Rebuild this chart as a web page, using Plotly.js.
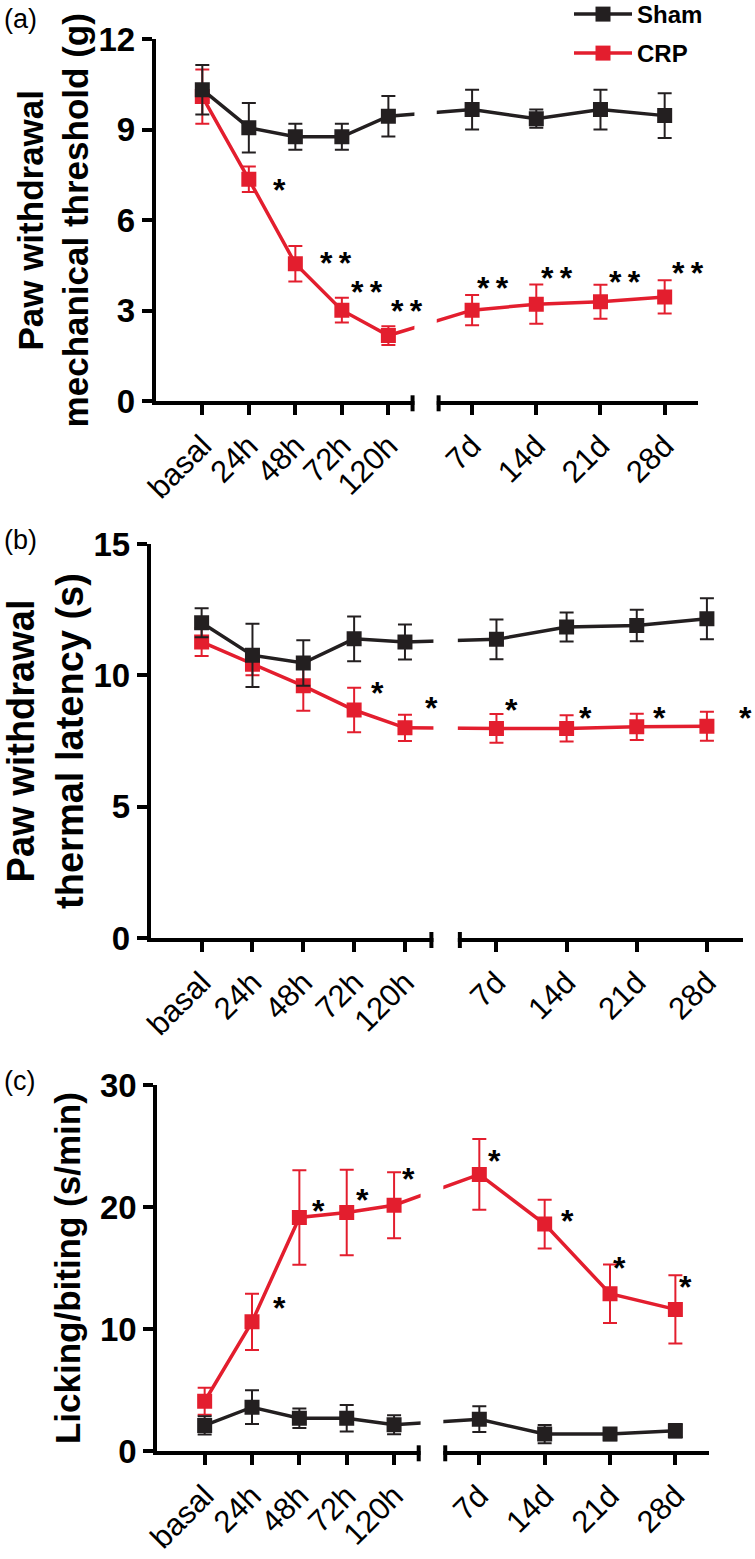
<!DOCTYPE html>
<html>
<head>
<meta charset="utf-8">
<script src="https://cdn.plot.ly/plotly-3.0.1.min.js"></script>
<style>html,body{margin:0;padding:0;background:#fff}#graph{width:755px;height:1559px}</style>
</head>
<body>
<div id="graph"></div>
<script>
var timeLabels = ['basal', '24h', '48h', '72h', '120h', '7d', '14d', '21d', '28d'];

// (a) mechanical threshold (g), mean and error
var mechSham = [10.33, 9.07, 8.77, 8.77, 9.45, 9.67, 9.37, 9.67, 9.47];
var mechShamErr = [0.82, 0.82, 0.43, 0.43, 0.67, 0.66, 0.3, 0.66, 0.74];
var mechCrp = [10.1, 7.36, 4.56, 3.02, 2.18, 3.02, 3.22, 3.3, 3.46];
var mechCrpErr = [0.9, 0.42, 0.59, 0.41, 0.31, 0.5, 0.65, 0.56, 0.55];
var mechStars = ['', '*', '**', '**', '**', '**', '**', '**', '**'];

// (b) thermal latency (s)
var thermSham = [12.0, 10.76, 10.47, 11.39, 11.27, 11.37, 11.84, 11.9, 12.15];
var thermShamErr = [0.55, 1.2, 0.87, 0.85, 0.67, 0.76, 0.55, 0.6, 0.78];
var thermCrp = [11.27, 10.42, 9.6, 8.68, 8.0, 7.98, 7.98, 8.04, 8.06];
var thermCrpErr = [0.53, 0.42, 0.95, 0.85, 0.5, 0.55, 0.5, 0.5, 0.55];
var thermStars = ['', '', '', '*', '*', '*', '*', '*', '*'];

// (c) licking/biting (s/min)
var lickSham = [2.12, 3.61, 2.71, 2.71, 2.17, 2.63, 1.41, 1.41, 1.68];
var lickShamErr = [0.75, 1.38, 0.8, 1.08, 0.78, 1.05, 0.75, 0.5, 0.55];
var lickCrp = [4.1, 10.6, 19.15, 19.56, 20.15, 22.68, 18.61, 12.9, 11.62];
var lickCrpErr = [1.1, 2.3, 3.87, 3.5, 2.7, 2.9, 2.0, 2.4, 2.8];
var lickStars = ['', '*', '*', '*', '*', '*', '*', '*', '*'];

var W = 755, H = 1559;
var red = '#e31e2e', dark = '#231f20';
var fam = '"Liberation Sans", Arial, sans-serif';
function px(x) { return x / W; }
function py(y) { return 1 - y / H; }

// broken time axis: hours spaced by 1, days by 1.38 after the break
var xPos = timeLabels.map(function (t, i) { return i < 5 ? i + 1 : 6.8 + (i - 5) * 1.38; });
var xMax = 11.65, capL = 5.52, capR = 6.08;

var panels = [
  {left: 155.8, right: 697.7, top: 39.3, bottom: 401.3, ymax: 12, dtick: 3, label: '(a)', labelY: 19,
   title: 'Paw withdrawal<br>mechanical threshold (g)', tsize: 35, standoff: 0,
   sham: mechSham, shamErr: mechShamErr, crp: mechCrp, crpErr: mechCrpErr, stars: mechStars,
   starX: [0, 2.65, 3.88, 4.54, 5.41, 7.24, 8.62, 10.09, 11.44],
   starY: [0, 7.3, 4.89, 3.92, 3.3, 4.06, 4.39, 4.26, 4.54]},
  {left: 150.8, right: 743, top: 544, bottom: 938, ymax: 15, dtick: 5, label: '(b)', labelY: 540,
   title: 'Paw withdrawal<br>thermal latency (s)', tsize: 38, standoff: 16,
   sham: thermSham, shamErr: thermShamErr, crp: thermCrp, crpErr: thermCrpErr, stars: thermStars,
   starX: [0, 0, 0, 4.46, 5.52, 7.1, 8.55, 10.0, 11.69],
   starY: [0, 0, 0, 9.66, 9.08, 9.01, 8.73, 8.73, 8.7]},
  {left: 157.3, right: 709, top: 1085, bottom: 1451.3, ymax: 30, dtick: 10, label: '(c)', labelY: 1081,
   title: 'Licking/biting (s/min)', tsize: 35, standoff: 10,
   sham: lickSham, shamErr: lickShamErr, crp: lickCrp, crpErr: lickCrpErr, stars: lickStars,
   starX: [0, 2.58, 3.41, 4.34, 5.3, 7.12, 8.67, 9.76, 11.15],
   starY: [0, 12.49, 20.42, 21.32, 23.03, 24.5, 19.56, 15.75, 14.18]}
];

var data = [], annotations = [], shapes = [];
var legendFont = {family: fam, size: 24, weight: 'bold', color: '#000'};
var layout = {
  width: W, height: H,
  margin: {l: 0, r: 0, t: 0, b: 0, autoexpand: false},
  paper_bgcolor: '#fff', plot_bgcolor: '#fff',
  font: {family: fam, color: '#000'},
  hovermode: false,
  legend: {x: px(569), xanchor: 'left', y: py(-8), yanchor: 'top', itemwidth: 58,
           font: legendFont, bgcolor: 'rgba(0,0,0,0)'},
  legend2: {x: px(569), xanchor: 'left', y: py(31), yanchor: 'top', itemwidth: 58,
            font: legendFont, bgcolor: 'rgba(0,0,0,0)'}
};

panels.forEach(function (p, k) {
  var n = k === 0 ? '' : String(k + 1);
  var xa = 'x' + n, ya = 'y' + n;
  var unit = (p.right - p.left) / xMax;
  [['CRP', p.crp, p.crpErr, red, 'legend2'], ['Sham', p.sham, p.shamErr, dark, 'legend']].forEach(function (s) {
    data.push({
      type: 'scatter', mode: 'lines+markers', name: s[0],
      x: xPos, y: s[1], xaxis: xa, yaxis: ya,
      line: {color: s[3], width: 3.5},
      marker: {symbol: 'square', size: 15, color: s[3]},
      error_y: {type: 'data', array: s[2], color: s[3], thickness: 2, width: 7},
      showlegend: k === 0, legend: s[4]
    });
  });

  layout['xaxis' + n] = {
    domain: [px(p.left), px(p.right)], anchor: ya, range: [0, xMax],
    tickmode: 'array', tickvals: xPos, ticktext: timeLabels, tickangle: -45,
    ticks: 'outside', ticklen: 10, tickwidth: 4, tickcolor: '#000',
    showline: true, linewidth: 4, linecolor: '#000', showgrid: false, zeroline: false,
    tickfont: {family: fam, size: 31, color: '#000'}
  };
  layout['yaxis' + n] = {
    domain: [py(p.bottom), py(p.top)], anchor: xa, range: [0, p.ymax],
    tick0: 0, dtick: p.dtick,
    ticks: 'outside', ticklen: 10, tickwidth: 4, tickcolor: '#000',
    showline: true, linewidth: 4, linecolor: '#000', showgrid: false, zeroline: false,
    tickfont: {family: fam, size: 33, weight: 'bold', color: '#000'},
    title: {text: p.title, standoff: p.standoff,
            font: {family: fam, size: p.tsize, weight: 'bold', color: '#000'}}
  };

  // axis break: blank out the gap, then draw the end caps
  shapes.push({type: 'rect', xref: xa, yref: 'paper', x0: 5.56, x1: 6.04,
               y0: py(p.bottom + 7), y1: py(p.top - 5), fillcolor: '#fff', line: {width: 0}, layer: 'above'});
  [capL, capR].forEach(function (c) {
    shapes.push({type: 'line', xref: xa, yref: 'paper', x0: c, x1: c,
                 y0: py(p.bottom + 2 + 8), y1: py(p.bottom + 2 - 8), line: {color: '#000', width: 4}, layer: 'above'});
  });

  p.stars.forEach(function (t, i) {
    if (!t) return;
    var sx = Math.min(p.starX[i], xMax - 0.02);
    annotations.push({xref: xa, yref: ya, x: sx, y: p.starY[i], text: t.split('').join('\u2009'),
                      showarrow: false, xanchor: 'center', yanchor: 'middle', yshift: -9,
                      xshift: (p.starX[i] - sx) * unit,
                      font: {family: fam, size: 32, weight: 'bold', color: '#000'}});
  });

  annotations.push({xref: 'paper', yref: 'paper', x: px(2), y: py(p.labelY), xanchor: 'left', yanchor: 'middle',
                    text: p.label, showarrow: false, font: {family: fam, size: 27, color: '#000'}});
});

layout.shapes = shapes;
layout.annotations = annotations;

Plotly.newPlot('graph', data, layout, {staticPlot: true});
</script>
</body>
</html>
